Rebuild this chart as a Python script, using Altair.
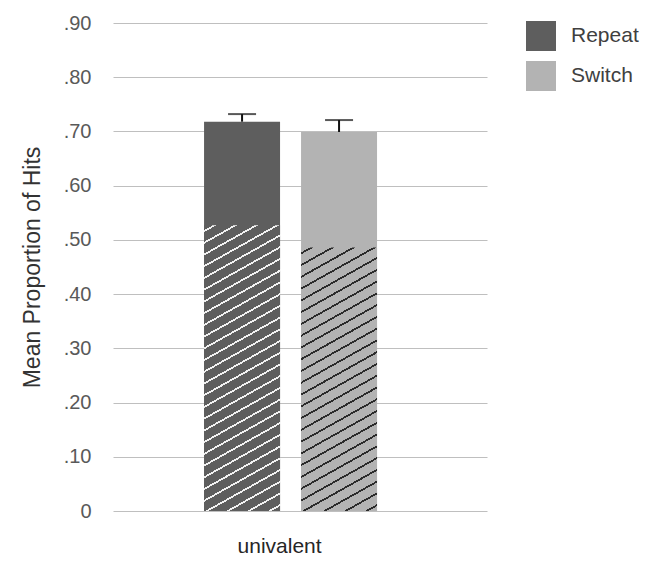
import altair as alt
import pandas as pd

# ---- data ----
conditions = ["Repeat", "Switch"]
groups = ["univalent", "univalent"]
means = [0.718, 0.699]          # full bar height
hatched = [0.527, 0.486]        # hatched (lower) portion
upper = [0.732, 0.721]          # top of error bar

df = pd.DataFrame({"group": groups, "condition": conditions,
                   "mean": means, "hatch": hatched, "upper": upper})

# ---- style constants ----
W_PLOT, H_PLOT = 374, 488
Y_MAX = 0.9
BAR_W = 76
base_colors = ["#5e5e5e", "#b3b3b3"]
line_colors = ["#f2f2f2", "#2b2b2b"]
SLOPE = 0.56        # hatch line slope
SPACING = 11.7      # vertical spacing of hatch lines (px)
THICK = 2.0         # vertical thickness of hatch line (px)


def hatch_gradient(h_value, base, line):
    H = h_value / Y_MAX * H_PLOT
    W = BAR_W
    a = (SLOPE * W + H) / (SLOPE * SLOPE * W / H + H / W)
    gx = a * SLOPE / H
    gy = a / W
    n = int(round((SLOPE * W + H) / SPACING))
    d = THICK / SPACING / n / 2
    stops = [{"offset": 0, "color": base}]
    for k in range(n):
        c = (k + 0.5) / n
        stops += [{"offset": c - d, "color": base},
                  {"offset": c - d, "color": line},
                  {"offset": c + d, "color": line},
                  {"offset": c + d, "color": base}]
    stops.append({"offset": 1, "color": base})
    return {"gradient": "linear", "x1": 0, "y1": 0, "x2": gx, "y2": gy,
            "stops": stops}


x_enc = alt.X("group:N",
              scale=alt.Scale(paddingOuter=0.581, paddingInner=0, align=0.453),
              axis=alt.Axis(title=None, labelAngle=0, ticks=False, domain=False,
                            grid=False, labelOffset=-11, labelPadding=24,
                            labelFontSize=21, labelColor="#262626"))
xo_enc = alt.XOffset("condition:N",
                     scale=alt.Scale(domain=conditions, paddingInner=0.2165,
                                     paddingOuter=0))
y_scale = alt.Scale(domain=[0, Y_MAX], nice=False)
y_axis = alt.Axis(title="Mean Proportion of Hits",
                  values=[0, 0.1, 0.2, 0.3, 0.4, 0.5, 0.6, 0.7, 0.8, 0.9],
                  labelExpr="datum.value == 0 ? '0' : replace(format(datum.value, '.2f'), '0.', '.')",
                  ticks=False, domain=False, grid=True, gridColor="#bfbfbf",
                  gridWidth=1, labelPadding=22, labelFontSize=20,
                  labelColor="#595959", titleFontSize=23, titleColor="#333333",
                  titleFontWeight="normal", titlePadding=19)

base = alt.Chart(df)

bars = base.mark_bar().encode(
    x=x_enc, xOffset=xo_enc,
    y=alt.Y("mean:Q", scale=y_scale, axis=y_axis),
    color=alt.Color("condition:N",
                    scale=alt.Scale(domain=conditions, range=base_colors),
                    legend=alt.Legend(title=None, orient="none", legendX=413,
                                      legendY=-2, symbolType="square",
                                      symbolSize=900, symbolStrokeWidth=0,
                                      labelFontSize=21, labelColor="#404040",
                                      labelOffset=15, rowPadding=10,
                                      padding=0)),
)

hatch_layers = []
for i, cond in enumerate(conditions):
    hatch_layers.append(
        base.transform_filter(alt.datum.condition == cond)
        .mark_bar(fill=hatch_gradient(hatched[i], base_colors[i], line_colors[i]))
        .encode(x=x_enc, xOffset=xo_enc,
                y=alt.Y("hatch:Q", scale=y_scale, axis=y_axis))
    )

err = base.mark_rule(color="#111111", strokeWidth=2).encode(
    x=x_enc, xOffset=xo_enc,
    y=alt.Y("mean:Q", scale=y_scale, axis=y_axis), y2="upper:Q")

cap = base.mark_tick(color="#111111", thickness=2, size=28).encode(
    x=x_enc, xOffset=xo_enc,
    y=alt.Y("upper:Q", scale=y_scale, axis=y_axis))

chart = alt.layer(bars, *hatch_layers, err, cap).properties(
    width=W_PLOT, height=H_PLOT,
    autosize=alt.AutoSizeParams(type="none"),
    padding={"left": 105, "top": 15, "right": 153, "bottom": 43},
).configure(font="Liberation Sans").configure_view(stroke="transparent", strokeWidth=0)

chart.save("out.html", embed_options={"renderer": "svg", "actions": False})
